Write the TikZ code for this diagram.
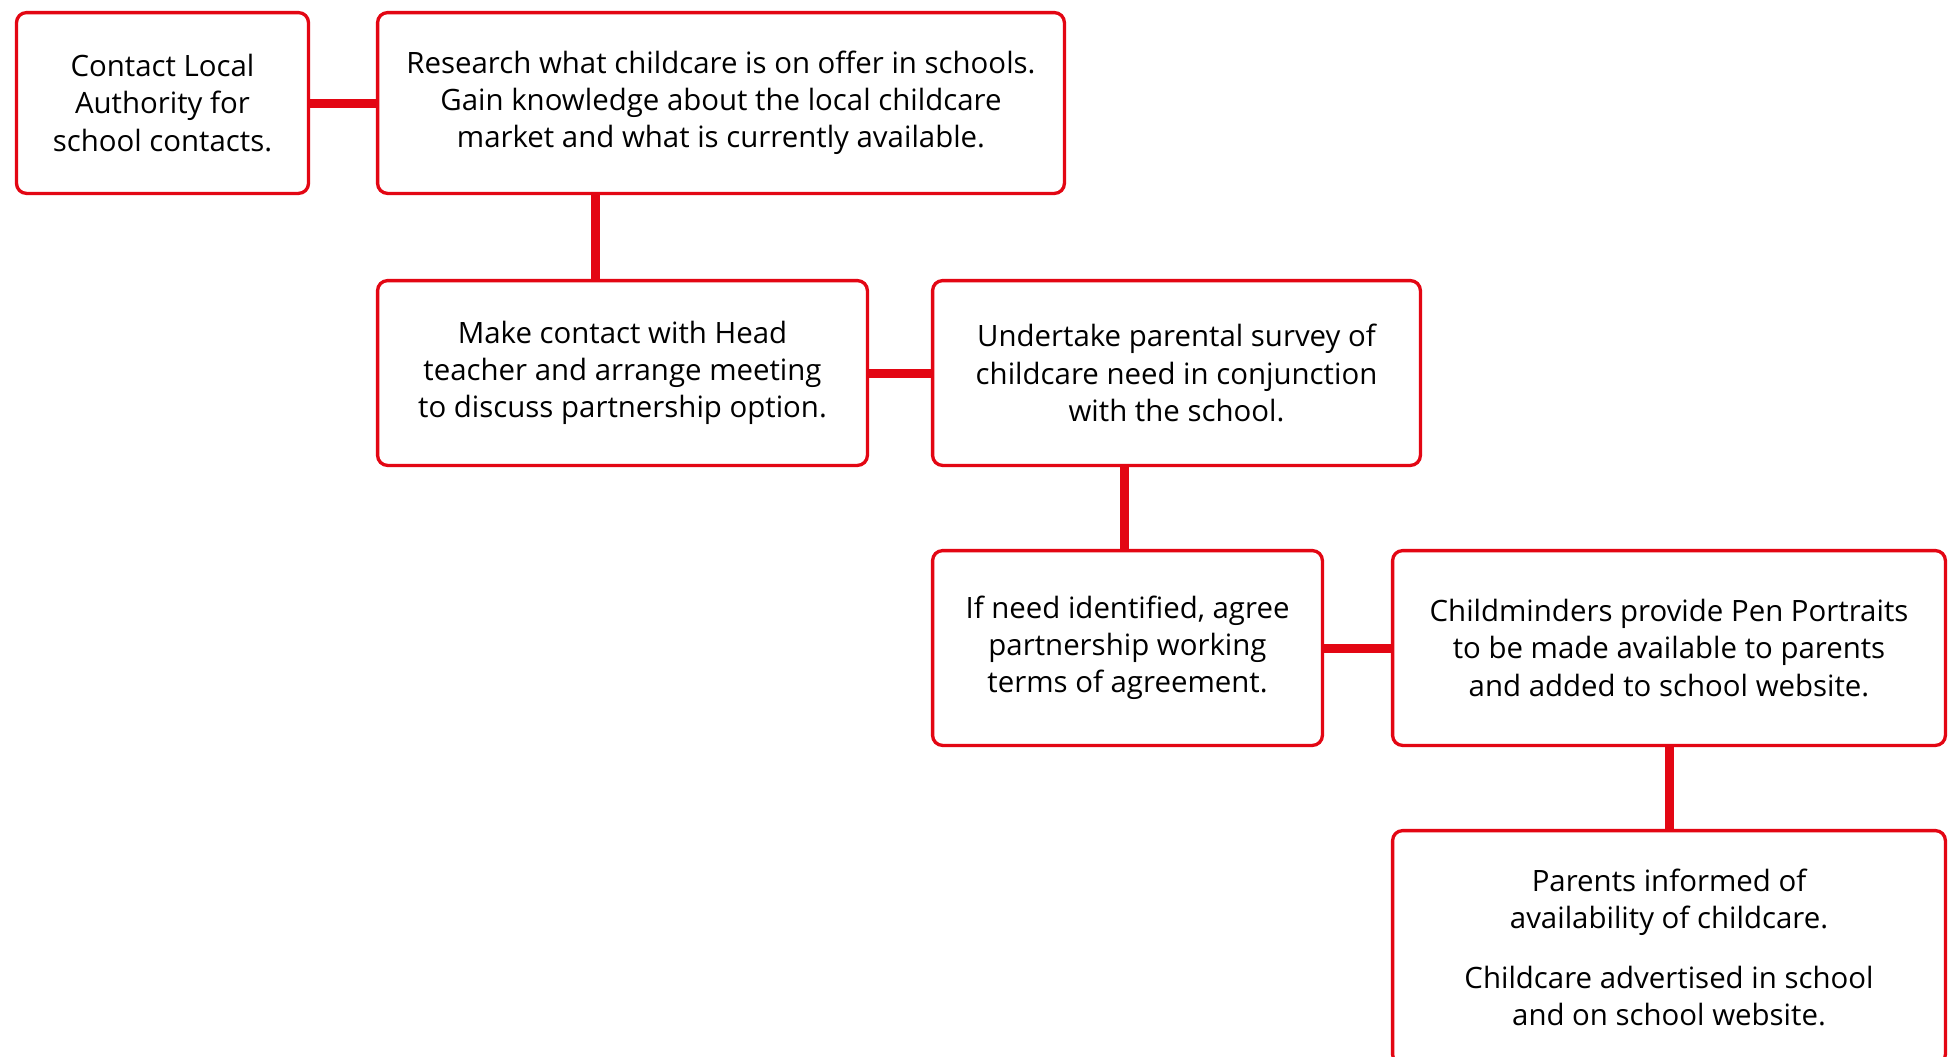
\documentclass[tikz,border=0pt]{standalone}
\usepackage{fontspec}
\setmainfont{Open Sans}[Ligatures=CommonOff]
\definecolor{boxred}{RGB}{227,6,19}
\begin{document}
\begin{tikzpicture}[x=0.5pt,y=-0.5pt,
		stepbox/.style={draw=boxred,line width=1.65pt,rounded corners=5pt,align=center,
			inner sep=0pt,font=\fontsize{14.7}{18.6}\selectfont},
		link/.style={draw=boxred,line width=4.5pt}]
	\useasboundingbox (0,0) rectangle (1951,1056);
	\fill[white] (0,0) rectangle (1951,1056);
	\clip (0,0) rectangle (1951,1056);
	% row 1
	\node[stepbox,minimum width=146pt,minimum height=90.4pt] (contact) at (162.5,103) {Contact Local\\Authority for\\school contacts.};
	\node[stepbox,minimum width=343.4pt,minimum height=90.4pt] (research) at (721,103) {Research what childcare is on offer in schools.\\Gain knowledge about the local childcare\\market and what is currently available.};
	% row 2
	\node[stepbox,minimum width=244.9pt,minimum height=92.4pt] (head) at (622.5,373) {Make contact with Head\\teacher and arrange meeting\\to discuss partnership option.};
	\node[stepbox,minimum width=243.9pt,minimum height=92.4pt] (survey) at (1176.5,373) {Undertake parental survey of\\childcare need in conjunction\\with the school.};
	% row 3
	\node[stepbox,minimum width=194.9pt,minimum height=97.4pt] (agree) at (1127.5,648) {If need identified, agree\\partnership working\\terms of agreement.};
	\node[stepbox,minimum width=276.4pt,minimum height=97.4pt] (pens) at (1669,648) {Childminders provide Pen Portraits\\to be made available to parents\\and added to school website.};
	% row 4
	\node[stepbox,minimum width=276.4pt,minimum height=116.9pt] (inform) at (1669,947.5) {Parents informed of\\availability of childcare.\\[11pt]Childcare advertised in school\\and on school website.};
	% links
	\draw[link] (contact) -- (research);
	\draw[link] (595,0 |- research.south) -- (595,0 |- head.north);
	\draw[link] (head) -- (survey);
	\draw[link] (1124,0 |- survey.south) -- (1124,0 |- agree.north);
	\draw[link] (agree) -- (pens);
	\draw[link] (pens) -- (inform);
\end{tikzpicture}
\end{document}
